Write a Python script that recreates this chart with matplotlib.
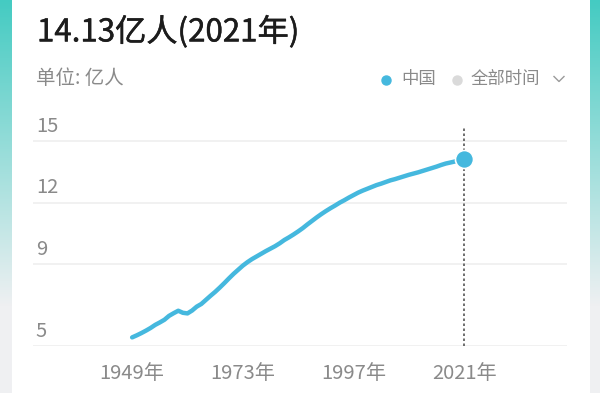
"""China population 1949-2021, card-style line chart."""

import matplotlib.pyplot as plt
import matplotlib.patheffects as pe
import numpy as np
from matplotlib.patches import FancyBboxPatch
from matplotlib.transforms import blended_transform_factory

plt.rcParams["font.family"] = ["Noto Sans CJK SC", "DejaVu Sans"]

YEARS = list(range(1949, 2022))
# population, 100 million people (亿人)
POP = [5.42, 5.52, 5.63, 5.75, 5.88, 6.03, 6.15, 6.28, 6.47, 6.60,
       6.72, 6.62, 6.59, 6.73, 6.92, 7.05, 7.25, 7.45, 7.64, 7.85,
       8.07, 8.30, 8.52, 8.72, 8.92, 9.09, 9.24, 9.37, 9.50, 9.63,
       9.75, 9.87, 10.01, 10.17, 10.30, 10.44, 10.59, 10.75, 10.93, 11.10,
       11.27, 11.43, 11.58, 11.72, 11.85, 11.99, 12.11, 12.24, 12.36, 12.48,
       12.58, 12.67, 12.76, 12.85, 12.92, 13.00, 13.08, 13.14, 13.21, 13.28,
       13.35, 13.41, 13.47, 13.54, 13.61, 13.68, 13.75, 13.83, 13.90, 13.95,
       14.00, 14.12, 14.13]
Y_TICKS = [5, 9, 12, 15]
X_TICKS = [1949, 1973, 1997, 2021]
X_LABELS = ["1949年", "1973年", "1997年", "2021年"]

TITLE = "14.13亿人(2021年)"
UNIT = "单位: 亿人"
LINE_C = "#45b8de"
GREY_TXT = "#8a8a8a"

W, H = 600, 393
fig = plt.figure(figsize=(W / 100, H / 100), dpi=100)

# background layer in pixel coordinates
bg = fig.add_axes([0, 0, 1, 1], zorder=0)
bg.set_xlim(0, W)
bg.set_ylim(H, 0)
bg.axis("off")

top = np.array([0x44, 0xcb, 0xc2]) / 255
bot = np.array([0xef, 0xf0, 0xf2]) / 255
t = np.clip(np.linspace(0, 1, H) / 0.78, 0, 1)[:, None]
grad = top * (1 - t) + bot * t
bg.imshow(np.repeat(grad[:, None, :], 2, axis=1), extent=(0, W, H, 0),
          aspect="auto", interpolation="bilinear")
bg.add_patch(FancyBboxPatch((12, -40), 578, H + 80,
                            boxstyle="round,pad=0,rounding_size=30",
                            fc="white", ec="none"))

bg.text(37, 32, TITLE, fontsize=22.5, color="#1c1c1c", va="center", ha="left",
        path_effects=[pe.withStroke(linewidth=0.35, foreground="#1c1c1c")])
bg.text(36, 79, UNIT, fontsize=14, color=GREY_TXT, va="center", ha="left")
bg.plot([386], [79.5], "o", ms=6.5, color=LINE_C)
bg.text(401, 79, "中国", fontsize=12.5, color=GREY_TXT, va="center")
bg.plot([457], [79.5], "o", ms=6.5, color="#dadada")
bg.text(471, 79, "全部时间", fontsize=12.5, color=GREY_TXT, va="center")
bg.plot([554, 559, 564], [76.5, 81.5, 76.5], color="#9a9a9a", lw=1)

# chart area: gridline 15 at y=141px, 5 at y=346px
px_per = (346 - 141) / 10
y_top = 15 + (141 - 128) / px_per
ax = fig.add_axes([33 / W, 1 - 346 / H, 534 / W, (346 - 128) / H], zorder=1)
ax.patch.set_alpha(0)
ax.set_xlim(1927.5, 2043.3)
ax.set_ylim(5, y_top)

for v in Y_TICKS:
    ax.axhline(v, color="#efefef", lw=1.2, zorder=1)

trans = blended_transform_factory(ax.transAxes, ax.transData)
for v in Y_TICKS:
    ax.annotate(str(v), (0, v), xycoords=trans, xytext=(2, 3),
                textcoords="offset points", fontsize=14.5, color=GREY_TXT,
                ha="left", va="bottom")

ax.plot(YEARS, POP, color=LINE_C, lw=3.2, solid_capstyle="round",
        solid_joinstyle="round", zorder=3)
ax.axvline(YEARS[-1], ymin=0, ymax=1, color="#555555", lw=1.2,
           linestyle=(0, (1.5, 1.5)), zorder=2)
ax.plot([YEARS[-1]], [POP[-1]], "o", ms=13, color=LINE_C, mec="white",
        mew=1.2, zorder=4, clip_on=False)

ax.set_yticks([])
ax.set_xticks(X_TICKS)
ax.set_xticklabels(X_LABELS, fontsize=14.5, color=GREY_TXT)
ax.tick_params(axis="x", length=0, pad=12)
for s in ax.spines.values():
    s.set_visible(False)

fig.savefig("out.png", dpi=100)
